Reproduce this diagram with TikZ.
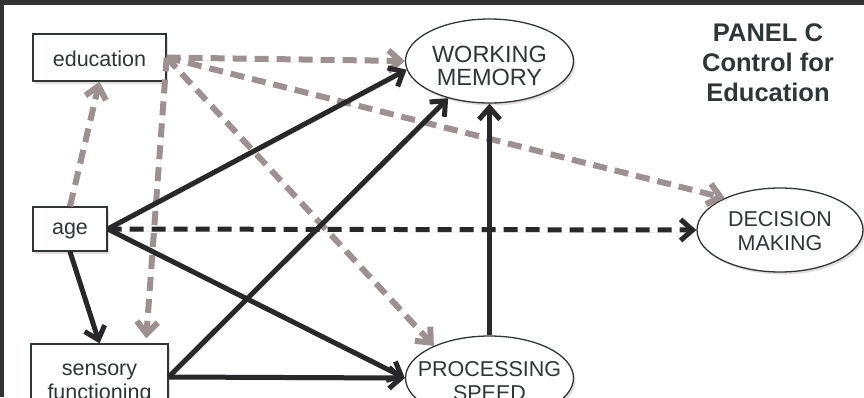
\documentclass[tikz,border=0pt]{standalone}
\usepackage{fontspec}
\setmainfont{Liberation Sans}
\usetikzlibrary{arrows.meta,shapes.geometric,shadows}

\definecolor{ink}{RGB}{40,40,42}
\definecolor{greyarrow}{RGB}{156,144,144}
\definecolor{txt}{RGB}{48,54,54}
\definecolor{framec}{RGB}{50,50,52}
\definecolor{shade}{RGB}{125,100,95}

\begin{document}
\begin{tikzpicture}[x=1pt,y=-1pt,
  soft/.style={drop shadow={opacity=0.22, shadow xshift=2pt, shadow yshift=-2.5pt, fill=shade}},
  varbox/.style={rectangle, draw=txt, line width=1.3pt, fill=white, inner sep=0pt, soft},
  latent/.style={ellipse, draw=txt, line width=1.3pt, fill=white, inner sep=0pt,
                 minimum width=168pt, minimum height=84pt, soft},
  label/.style={text=txt, align=center, inner sep=0pt, font=\fontsize{21.5}{24}\selectfont},
  lineshadow/.style={preaction={draw=shade, draw opacity=0.2,
                     transform canvas={shift={(1.5pt,-2.5pt)}}}},
  tip/.style={-{Straight Barb[length=12pt,width=21pt]}},
  path/.style={draw=ink, line width=5pt, tip, lineshadow},
  pathdash/.style={path, dash pattern=on 14pt off 8pt},
  ctrl/.style={draw=greyarrow, line width=6pt, tip, lineshadow, dash pattern=on 14pt off 8pt}
]
\useasboundingbox (0,0) rectangle (864,397);

% frame strips along the top and left edge
\fill[framec] (0,0) rectangle (864,5);
\fill[framec] (0,0) rectangle (4,397);

% observed variables
\node[varbox, minimum width=133pt, minimum height=47pt] (edu) at (99.5,57.5) {};
\node[label] (edutxt) at (99.5,59) {education};
\node[varbox, minimum width=74pt, minimum height=44pt] (age) at (70,229) {};
\node[label] (agetxt) at (70,231) {age};
\node[varbox, minimum width=137pt, minimum height=66pt] (sens) at (99.5,377) {};
\node[label] (senstxt) at (99.5,384) {sensory\\functioning};

% latent constructs
\node[latent] (wm) at (489.5,61) {};
\node[label, font=\fontsize{23.5}{23}\selectfont] (wmtxt) at (489.5,66) {WORKING\\MEMORY};
\node[latent] (ps) at (489.5,378) {};
\node[label] (pstxt) at (489.5,381) {PROCESSING\\SPEED};
\node[latent, minimum width=166pt] (dm) at (780,230) {};
\node[label] (dmtxt) at (780,231) {DECISION\\MAKING};

% panel title
\node[text=txt, align=center, inner sep=0pt, font=\bfseries\fontsize{25.5}{30}\selectfont]
  (title) at (768,63) {PANEL C\\Control for\\Education};

% education paths (controlled)
\draw[ctrl] (age.north) -- (edu.south);
\draw[ctrl] (edu.east) -- (wm.west);
\draw[ctrl] (edu.east) -- (dm.150);
\draw[ctrl] (edu.east) -- (ps.150);
\draw[ctrl, shorten >=5pt] (edu.east) -- (sens.36);

% structural paths
\draw[path] (age.south) -- (sens.north);
\draw[path] (age.east) -- (wm.186);
\draw[path] (sens.east) -- (wm.222);
\draw[path] (age.east) -- (ps.west);
\draw[path] (sens.east) -- (ps.west);
\draw[path] (ps.north) -- (wm.south);
\draw[pathdash] (age.east) -- (dm.west);
\end{tikzpicture}
\end{document}
